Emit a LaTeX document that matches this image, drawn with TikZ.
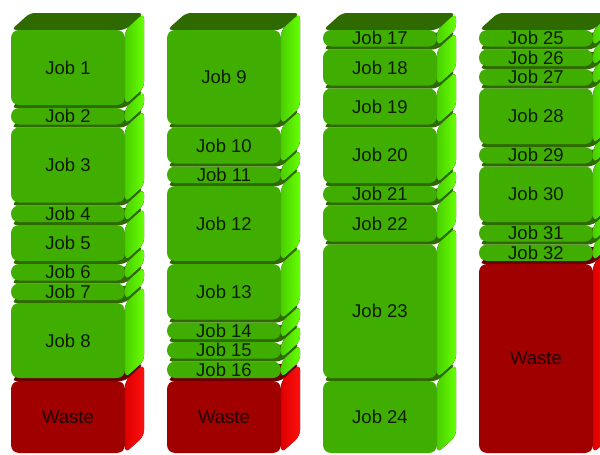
\documentclass[tikz,border=0pt]{standalone}
\usepackage{fontspec}
\setmainfont{Liberation Sans}
\definecolor{gF}{HTML}{40AE00}
\definecolor{gT}{HTML}{2E6A00}
\definecolor{gSa}{HTML}{4AD000}
\definecolor{gSb}{HTML}{66FF00}
\definecolor{rF}{HTML}{A00000}
\definecolor{rT}{HTML}{6A0000}
\definecolor{rSa}{HTML}{DD0000}
\definecolor{rSb}{HTML}{FF1010}
\definecolor{gTxt}{HTML}{0C1C00}
\definecolor{rTxt}{HTML}{200000}
\newcommand{\stackbox}[6]{%
  \pgfmathsetmacro{\jbT}{-(30+#2*19.5)}%
  \pgfmathsetmacro{\jbB}{-(27+#3*19.5)}%
  \pgfmathsetmacro{\jbM}{(\jbT+\jbB)/2}%
  \fill[#4top] (#1,\jbT) -- ++(19,17) -- ++(114,0) -- ++(-19,-17) -- cycle;
  \fill[#4side] (#1+114,\jbT) -- ++(19,17) -- (#1+133,\jbB+17) -- (#1+114,\jbB) -- cycle;
  \fill[#4front] (#1,\jbT) rectangle (#1+114,\jbB);
  \node[#4lbl] (#5) at (#1+57,\jbM) {#6};
}
\begin{document}
\begin{tikzpicture}[x=1pt,y=1pt,
  gtop/.style={fill=gT,rounded corners=5pt},
  gside/.style={left color=gSa,right color=gSb,rounded corners=6pt},
  gfront/.style={fill=gF,rounded corners=8pt},
  rtop/.style={fill=rT,rounded corners=5pt},
  rside/.style={left color=rSa,right color=rSb,rounded corners=6pt},
  rfront/.style={fill=rF,rounded corners=8pt},
  glbl/.style={text=gTxt,font=\fontsize{18.5}{19}\selectfont,inner sep=0pt},
  rlbl/.style={text=rTxt,font=\fontsize{18.5}{19}\selectfont,inner sep=0pt}]
\useasboundingbox (0,0) rectangle (600,-455);
% column 1
\stackbox{11}{18}{21.846}{r}{w1}{Waste}
\stackbox{11}{14}{18}{g}{j8}{Job 8}
\stackbox{11}{13}{14}{g}{j7}{Job 7}
\stackbox{11}{12}{13}{g}{j6}{Job 6}
\stackbox{11}{10}{12}{g}{j5}{Job 5}
\stackbox{11}{9}{10}{g}{j4}{Job 4}
\stackbox{11}{5}{9}{g}{j3}{Job 3}
\stackbox{11}{4}{5}{g}{j2}{Job 2}
\stackbox{11}{0}{4}{g}{j1}{Job 1}
% column 2
\stackbox{167}{18}{21.846}{r}{w2}{Waste}
\stackbox{167}{17}{18}{g}{j16}{Job 16}
\stackbox{167}{16}{17}{g}{j15}{Job 15}
\stackbox{167}{15}{16}{g}{j14}{Job 14}
\stackbox{167}{12}{15}{g}{j13}{Job 13}
\stackbox{167}{8}{12}{g}{j12}{Job 12}
\stackbox{167}{7}{8}{g}{j11}{Job 11}
\stackbox{167}{5}{7}{g}{j10}{Job 10}
\stackbox{167}{0}{5}{g}{j9}{Job 9}
% column 3
\stackbox{323}{18}{21.846}{g}{j24}{Job 24}
\stackbox{323}{11}{18}{g}{j23}{Job 23}
\stackbox{323}{9}{11}{g}{j22}{Job 22}
\stackbox{323}{8}{9}{g}{j21}{Job 21}
\stackbox{323}{5}{8}{g}{j20}{Job 20}
\stackbox{323}{3}{5}{g}{j19}{Job 19}
\stackbox{323}{1}{3}{g}{j18}{Job 18}
\stackbox{323}{0}{1}{g}{j17}{Job 17}
% column 4
\stackbox{479}{12}{21.846}{r}{w4}{Waste}
\stackbox{479}{11}{12}{g}{j32}{Job 32}
\stackbox{479}{10}{11}{g}{j31}{Job 31}
\stackbox{479}{7}{10}{g}{j30}{Job 30}
\stackbox{479}{6}{7}{g}{j29}{Job 29}
\stackbox{479}{3}{6}{g}{j28}{Job 28}
\stackbox{479}{2}{3}{g}{j27}{Job 27}
\stackbox{479}{1}{2}{g}{j26}{Job 26}
\stackbox{479}{0}{1}{g}{j25}{Job 25}
\end{tikzpicture}
\end{document}
